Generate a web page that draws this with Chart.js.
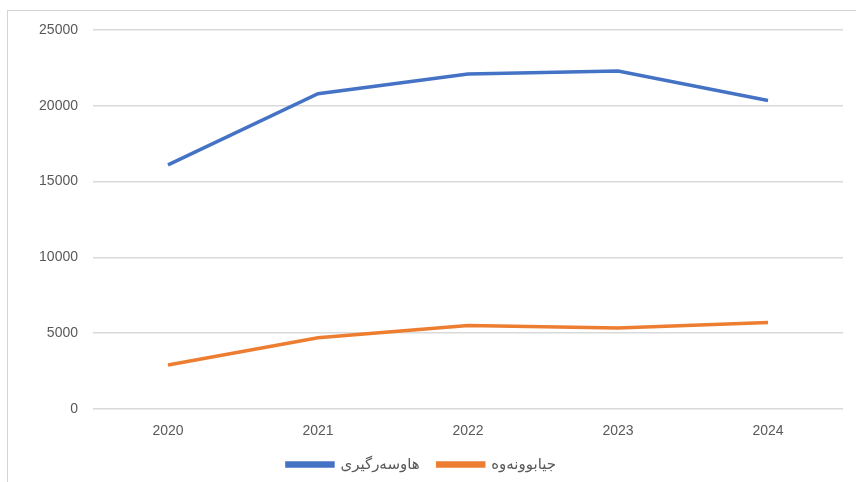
<!DOCTYPE html>
<html>
<head>
<meta charset="utf-8">
<script src="https://cdn.jsdelivr.net/npm/chart.js@4"></script>
<style>
  html, body { margin: 0; padding: 0; background: #fff; }
  #wrap { position: relative; width: 856px; height: 482px; overflow: hidden; }
  #frame { position: absolute; left: 7px; top: 10px; width: 870px; height: 490px; border: 1px solid #d4d4d4; }
  canvas { position: absolute; left: 0; top: 0; }
</style>
</head>
<body>
<div id="wrap">
  <div id="frame"></div>
  <canvas id="lineChart" width="856" height="482"></canvas>
</div>
<script>
const years = ['2020', '2021', '2022', '2023', '2024'];
const marriages = [16100, 20800, 22100, 22300, 20350];
const divorces = [2900, 4700, 5500, 5350, 5700];
const yTicks = [0, 5000, 10000, 15000, 20000, 25000];

const grey = '#595959';
const fontFamily = "'Liberation Sans', 'DejaVu Sans', sans-serif";

let ctx = document.getElementById('lineChart').getContext('2d');

let chart = new Chart(ctx, {
    type: 'line',
    data: {
        labels: years,
        datasets: [{
            label: 'هاوسەرگیری',
            data: marriages,
            borderColor: '#4472C4',
            backgroundColor: '#4472C4',
            borderWidth: 3.5,
            pointRadius: 0,
            tension: 0
        }, {
            label: 'جیابوونەوە',
            data: divorces,
            borderColor: '#ED7D31',
            backgroundColor: '#ED7D31',
            borderWidth: 3.5,
            pointRadius: 0,
            tension: 0
        }]
    },
    options: {
        responsive: false,
        animation: false,
        layout: {
            padding: { left: 0, right: 13, top: 30, bottom: 0 }
        },
        plugins: {
            tooltip: { enabled: false },
            legend: {
                position: 'bottom',
                labels: {
                    color: grey,
                    boxWidth: 46,
                    boxHeight: 3,
                    padding: 18,
                    font: { family: fontFamily, size: 15 }
                }
            }
        },
        scales: {
            x: {
                offset: true,
                grid: { display: false },
                border: { display: false },
                ticks: {
                    color: grey,
                    padding: 6,
                    font: { family: fontFamily, size: 14 }
                },
                afterFit: function (scale) { scale.height = 30; }
            },
            y: {
                min: 0,
                max: 25000,
                afterBuildTicks: function (scale) {
                    scale.ticks = yTicks.map(v => ({ value: v }));
                },
                grid: { color: '#d9d9d9', lineWidth: 1.5, drawTicks: false },
                border: { display: false },
                ticks: {
                    color: grey,
                    padding: 15,
                    font: { family: fontFamily, size: 14 },
                    callback: function (value) { return String(value); }
                },
                afterFit: function (scale) { scale.width = 93; }
            }
        }
    }
});
</script>
</body>
</html>
